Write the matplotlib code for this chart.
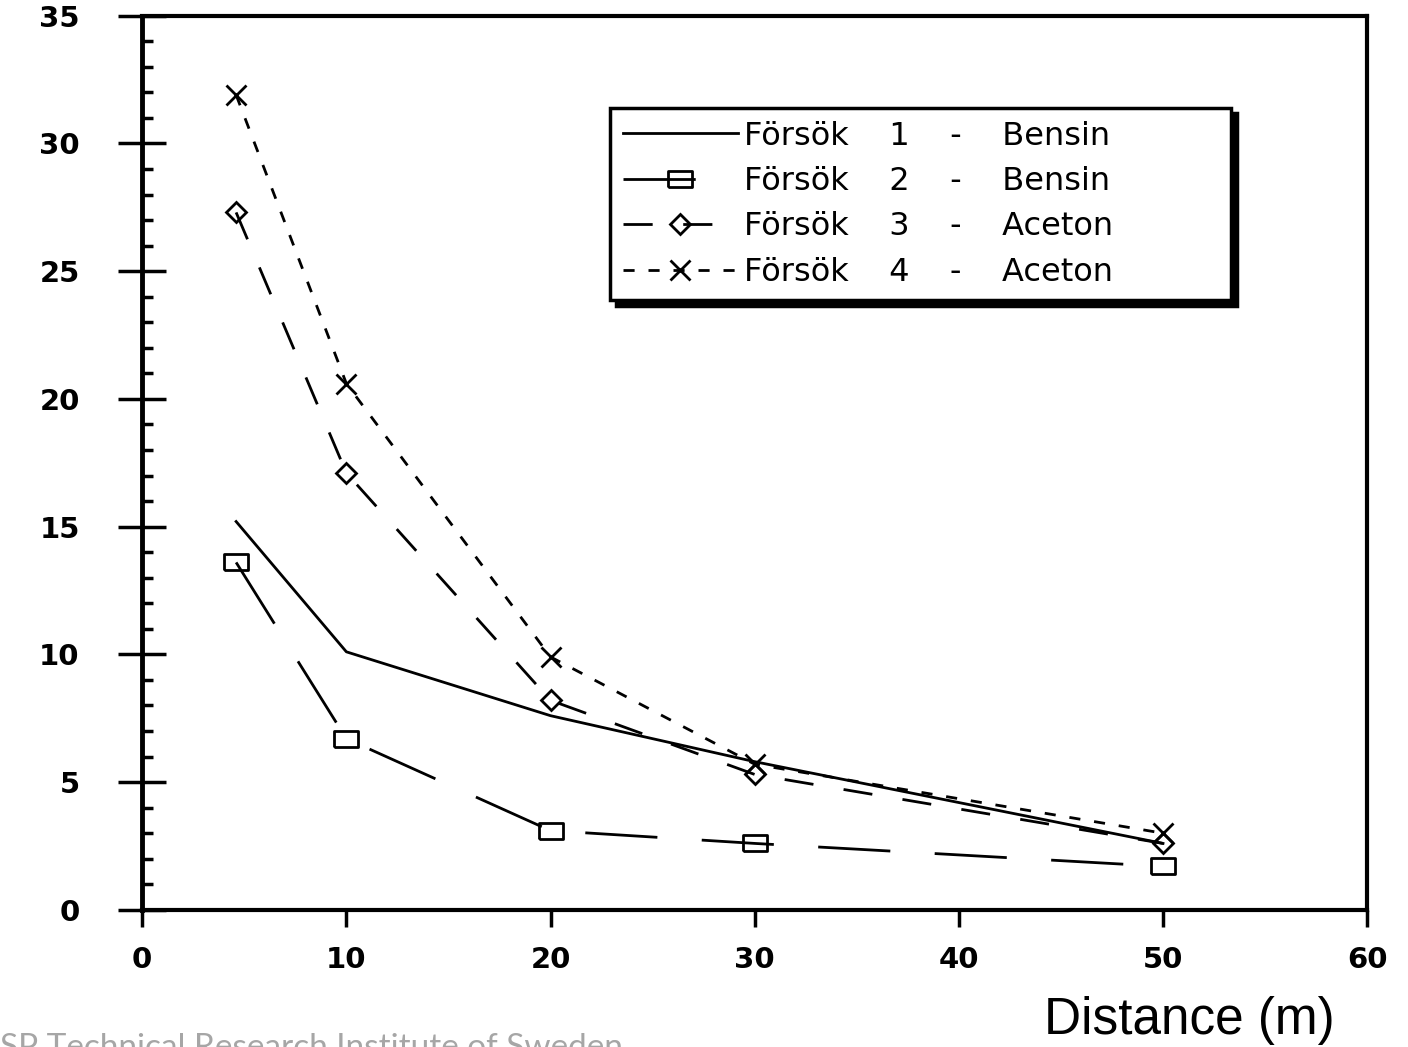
import numpy as np
import matplotlib
matplotlib.use("Agg")
import matplotlib.pyplot as plt
from matplotlib.ticker import MultipleLocator

plt.rcParams['font.family'] = ['DejaVu Sans']
plt.rcParams['lines.scale_dashes'] = False

dist = [4.6, 10, 20, 30, 50]
forsok1 = [15.2, 10.1, 7.6, 5.8, 2.6]
forsok2 = [13.6, 6.7, 3.1, 2.6, 1.7]
forsok3 = [27.3, 17.1, 8.2, 5.3, 2.6]
forsok4 = [31.9, 20.6, 9.9, 5.7, 3.0]

labels = ["Försök    1    -    Bensin",
          "Försök    2    -    Bensin",
          "Försök    3    -    Aceton",
          "Försök    4    -    Aceton"]

xticks = [0, 10, 20, 30, 40, 50, 60]
yticks = [0, 5, 10, 15, 20, 25, 30, 35]

fig = plt.figure(figsize=(14.08, 10.47), dpi=100)
ax = fig.add_axes([0.101, 0.131, 0.870, 0.854])

rect = [(-1.5, -1), (1.5, -1), (1.5, 1), (-1.5, 1), (-1.5, -1)]

ax.plot(dist, forsok1, color='black', lw=2, ls='-', label=labels[0])
ax.plot(dist, forsok2, color='black', lw=2, ls=(0, (52, 32)),
        marker=rect, markersize=17, fillstyle='none', mew=2, label=labels[1])
ax.plot(dist, forsok3, color='black', lw=2, ls=(0, (21, 22)),
        marker='D', markersize=10, fillstyle='none', mew=2, label=labels[2])
ax.plot(dist, forsok4, color='black', lw=2, ls=(0, (8, 10)),
        marker='x', markersize=15, mew=2, label=labels[3])

ax.set_xlim(0, 60)
ax.set_ylim(0, 35)
ax.set_xticks(xticks)
ax.set_yticks(yticks)
ax.yaxis.set_minor_locator(MultipleLocator(1))

for s in ax.spines.values():
    s.set_linewidth(3)
ax.spines['left'].set_linewidth(3.5)

ax.tick_params(axis='y', which='major', direction='inout', length=34, width=2.5,
               pad=28, labelsize=21)
ax.tick_params(axis='y', which='minor', direction='in', length=8, width=2.5)
ax.tick_params(axis='x', which='major', direction='out', length=12, width=2.5,
               pad=14, labelsize=21)
for t in ax.get_xticklabels() + ax.get_yticklabels():
    t.set_fontweight('bold')

leg = ax.legend(loc='upper left', bbox_to_anchor=(0.382, 0.5, 0.507, 0.397),
                mode='expand', frameon=True, fancybox=False,
                shadow={'color': 'black', 'alpha': 1, 'ox': 4, 'oy': -4},
                edgecolor='black', fontsize=23, handlelength=3.6,
                handletextpad=0.2, labelspacing=0.45, borderpad=0.4,
                borderaxespad=0)
leg.get_frame().set_linewidth(2.5)

fig.text(0.845, 0.025, "Distance (m)", fontsize=37, family='Liberation Sans',
         ha='center', va='center')
fig.text(0.0, 0.013, "SP Technical Research Institute of Sweden", fontsize=24,
         family='Lato', color='#a6a6a6', ha='left', va='top')

fig.savefig("out.png", dpi=100)
